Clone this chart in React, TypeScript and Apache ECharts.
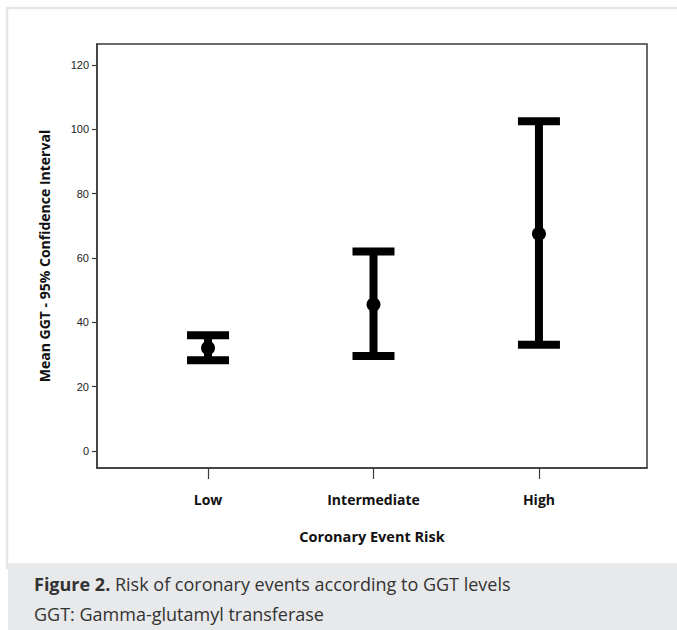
import React, { useEffect, useRef } from "react";
import * as echarts from "echarts";

const categories = ["Low", "Intermediate", "High"];
const means = [32, 45.5, 67.5];
const lowerCI = [28.2, 29.5, 33];
const upperCI = [36, 62, 102.5];
const yTicks = [0, 20, 40, 60, 80, 100, 120];
const xTicks = [0, 1, 2];
const yTitle = "Mean GGT - 95% Confidence Interval";
const xTitle = "Coronary Event Risk";
const captionBold = "Figure 2.";
const captionRest = " Risk of coronary events according to GGT levels";
const captionLine2 = "GGT: Gamma-glutamyl transferase";

export default function App() {
  const ref = useRef<HTMLDivElement>(null);
  useEffect(() => {
    if (!ref.current) return;
    const chart = echarts.init(ref.current, null, { renderer: "svg" });
    const barData = categories.map((_, i) => [i, lowerCI[i], upperCI[i]]);
    chart.setOption({
      animation: false,
      backgroundColor: "#ffffff",
      graphic: [
        {
          type: "rect",
          z: -10,
          silent: true,
          shape: { x: 7, y: 8, width: 680, height: 560 },
          style: { fill: "#ffffff", stroke: "#e6e6e6", lineWidth: 2.5 },
        },
        {
          type: "rect",
          z: -9,
          silent: true,
          shape: { x: 8, y: 563, width: 680, height: 70 },
          style: { fill: "#e8e9ea" },
        },
        {
          type: "text",
          x: 34,
          y: 584,
          style: {
            text: "{b|" + captionBold + "}" + captionRest,
            fontFamily: "Open Sans",
            fontSize: 18,
            fill: "#333333",
            verticalAlign: "middle",
            rich: { b: { fontWeight: "bold", fontFamily: "Open Sans", fontSize: 18, fill: "#333333" } },
          },
        },
        {
          type: "text",
          x: 34,
          y: 614,
          style: {
            text: captionLine2,
            fontFamily: "Open Sans",
            fontSize: 18,
            fill: "#333333",
            verticalAlign: "middle",
          },
        },
      ],
      grid: {
        left: 97,
        top: 44,
        width: 550,
        height: 424,
        show: true,
        borderColor: "#3a3a3a",
        borderWidth: 1.5,
        backgroundColor: "transparent",
      },
      xAxis: {
        type: "value",
        min: -0.671,
        max: 2.653,
        name: xTitle,
        nameLocation: "middle",
        nameGap: 61,
        nameTextStyle: { fontFamily: "Open Sans", fontWeight: "bold", fontSize: 14.5, color: "#111" },
        axisLine: { show: true, onZero: false, lineStyle: { color: "#3a3a3a", width: 1.5 } },
        splitLine: { show: false },
        axisTick: { show: true, length: 11, customValues: xTicks, lineStyle: { color: "#3a3a3a", width: 1.2 } },
        axisLabel: {
          customValues: xTicks,
          margin: 24,
          formatter: (v: number) => categories[Math.round(v)] ?? "",
          fontFamily: "Open Sans",
          fontWeight: "bold",
          fontSize: 14,
          color: "#111",
        },
      },
      yAxis: {
        type: "value",
        min: -5.3,
        max: 126.5,
        name: yTitle,
        nameLocation: "middle",
        nameGap: 46,
        nameTextStyle: { fontFamily: "Open Sans", fontWeight: "bold", fontSize: 14, color: "#111" },
        axisLine: { show: true, onZero: false, lineStyle: { color: "#3a3a3a", width: 1.5 } },
        splitLine: { show: false },
        axisTick: { show: true, length: 5, customValues: yTicks, lineStyle: { color: "#3a3a3a", width: 1.2 } },
        axisLabel: {
          customValues: yTicks,
          margin: 8,
          fontFamily: "Liberation Sans",
          fontSize: 11,
          color: "#222",
        },
      },
      series: [
        {
          type: "custom",
          data: barData,
          renderItem: (params: any, api: any) => {
            const x = api.value(0);
            const lo = api.coord([x, api.value(1)]);
            const hi = api.coord([x, api.value(2)]);
            const stemW = 8;
            const capW = 42;
            const capH = 8;
            return {
              type: "group",
              children: [
                {
                  type: "rect",
                  shape: { x: lo[0] - stemW / 2, y: hi[1], width: stemW, height: lo[1] - hi[1] },
                  style: { fill: "#000" },
                },
                {
                  type: "rect",
                  shape: { x: hi[0] - capW / 2, y: hi[1] - capH / 2, width: capW, height: capH },
                  style: { fill: "#000" },
                },
                {
                  type: "rect",
                  shape: { x: lo[0] - capW / 2, y: lo[1] - capH / 2, width: capW, height: capH },
                  style: { fill: "#000" },
                },
              ],
            };
          },
          z: 2,
        },
        {
          type: "scatter",
          data: categories.map((_, i) => [i, means[i]]),
          symbol: "circle",
          symbolSize: 14,
          itemStyle: { color: "#000", opacity: 1 },
          z: 3,
        },
      ],
    });
    return () => chart.dispose();
  }, []);
  return (
    <div
      ref={ref}
      style={{ position: "fixed", left: 0, top: 0, width: 677, height: 630 }}
    />
  );
}
